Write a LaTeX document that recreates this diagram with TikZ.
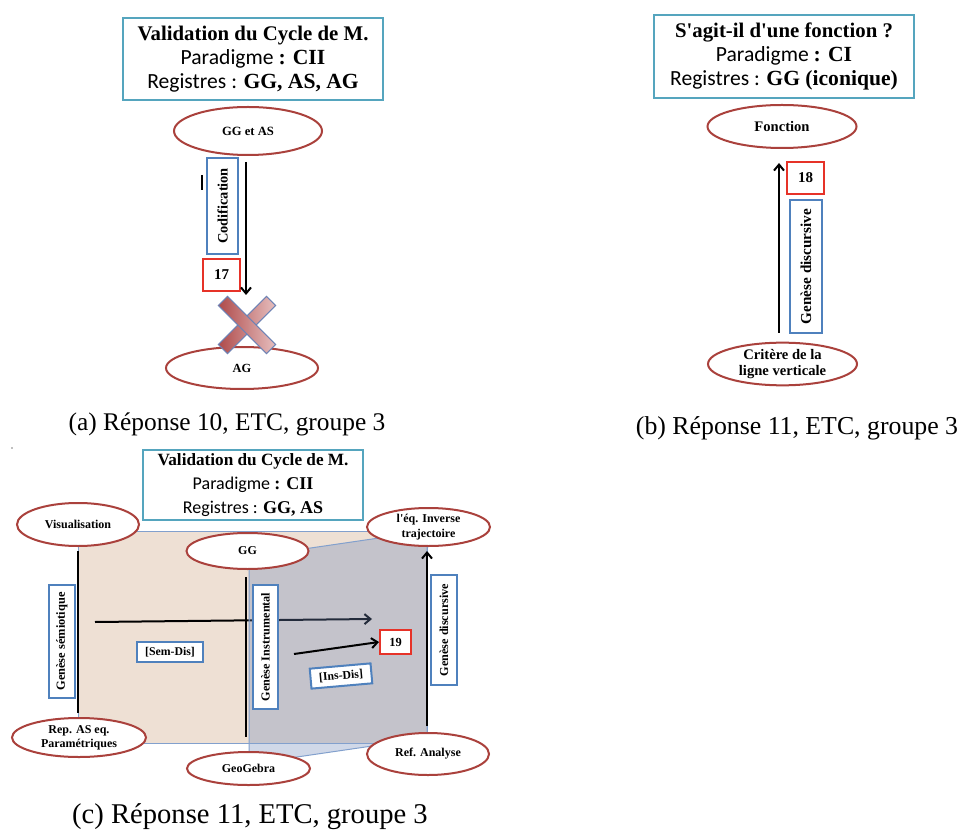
\documentclass[tikz,border=0pt]{standalone}
\usepackage{fontspec}
\newfontfamily\carl{Carlito}
\newfontfamily\lser{Liberation Serif}
\usetikzlibrary{shapes.geometric,arrows.meta}
\definecolor{tealc}{RGB}{85,165,190}
\definecolor{ovalc}{RGB}{170,65,60}
\definecolor{bluec}{RGB}{79,129,189}
\definecolor{redc}{RGB}{230,50,40}
\definecolor{beige}{RGB}{238,224,212}
\definecolor{overc}{RGB}{110,135,185}
\definecolor{edgec}{RGB}{130,160,205}
\definecolor{xdark}{RGB}{175,75,75}
\definecolor{xlight}{RGB}{230,190,190}
\definecolor{xedge}{RGB}{110,130,180}
\begin{document}
\begin{tikzpicture}[x=0.5pt,y=-0.5pt,
  titlebox/.style={draw=tealc,line width=1pt,fill=white,align=center,inner sep=0pt},
  oval/.style={ellipse,draw=ovalc,line width=1pt,fill=white,inner sep=0pt,align=center},
  genbox/.style={draw=bluec,line width=1pt,fill=white,inner sep=0pt,rotate=90},
  numbox/.style={draw=redc,line width=1pt,fill=white,inner sep=0pt},
  labbox/.style={draw=bluec,line width=1pt,fill=white,inner sep=0pt},
  caption/.style={inner sep=0pt},
  xbar/.style={draw=xedge,line width=0.5pt,left color=xdark,right color=xlight,minimum width=34pt,minimum height=6.5pt,inner sep=0pt},
  arr/.style={line width=1pt,-{Straight Barb[length=3pt,width=5pt]}},
  vline/.style={line width=1pt}]
\useasboundingbox (0,0) rectangle (967,833);
\fill[white] (0,0) rectangle (967,833);

% ---------------- Panel (a) ----------------
\node[titlebox,minimum width=130pt,minimum height=41pt] (ta) at (253,59)
 {\lser\bfseries\fontsize{10.4}{12}\selectfont Validation du Cycle de M.\\[0pt]
  \carl\fontsize{10.8}{12}\selectfont Paradigme {\lser\bfseries : CII}\\[0pt]
  \carl\fontsize{10.8}{12}\selectfont Registres : {\lser\bfseries GG, AS, AG}};
\node[oval,minimum width=74pt,minimum height=24pt,font=\lser\bfseries\fontsize{6.3}{7}\selectfont] (ggas) at (248,131) {GG et AS};
\node[oval,minimum width=76pt,minimum height=21pt,font=\lser\bfseries\fontsize{6.2}{7}\selectfont] (ag) at (242,368) {AG};
\node[genbox,minimum width=48pt,minimum height=15.5pt,font=\lser\bfseries\fontsize{7.2}{8}\selectfont] (cod) at (222.5,206) {Codification};
\node[numbox,minimum width=18.5pt,minimum height=16pt,font=\lser\bfseries\fontsize{7.5}{8}\selectfont] (n17) at (221.5,275) {17};
\coordinate (a1) at (246,162);
\coordinate (a2) at (246,295);
\draw[arr] (a1) -- (a2);
\draw[line width=0.6pt] (202,175) -- (202,190);
\node[xbar,rotate=45] (xa) at (247,325) {};
\node[xbar,rotate=-45] (xb) at (247,325) {};
\node[caption,font=\lser\fontsize{12.7}{14}\selectfont] (capa) at (227,424) {(a) Réponse 10, ETC, groupe 3};

% ---------------- Panel (b) ----------------
\node[titlebox,minimum width=130pt,minimum height=41.5pt] (tb) at (784,56.5)
 {\lser\bfseries\fontsize{10.4}{12}\selectfont S'agit-il d'une fonction ?\\[0pt]
  \carl\fontsize{10.8}{12}\selectfont Paradigme {\lser\bfseries : CI}\\[0pt]
  \carl\fontsize{10.8}{12}\selectfont Registres : {\lser\bfseries GG (iconique)}};
\node[oval,minimum width=74.5pt,minimum height=21.5pt,font=\lser\bfseries\fontsize{7.3}{8}\selectfont] (fct) at (782,126.5) {Fonction};
\node[oval,minimum width=74.5pt,minimum height=21pt,font=\lser\bfseries\fontsize{7.3}{8.4}\selectfont] (crit) at (782.5,364) {Critère de la\\ligne verticale};
\node[numbox,minimum width=18.5pt,minimum height=16pt,font=\lser\bfseries\fontsize{7.5}{8}\selectfont] (n18) at (805.5,178) {18};
\node[genbox,minimum width=66.5pt,minimum height=16pt,font=\lser\bfseries\fontsize{7.6}{8}\selectfont] (gdb) at (806,266.5) {Genèse discursive};
\coordinate (b1) at (779,333);
\coordinate (b2) at (779,163);
\draw[arr] (b1) -- (b2);
\node[caption,font=\lser\fontsize{12.9}{14}\selectfont] (capb) at (797,428) {(b) Réponse 11, ETC, groupe 3};

% ---------------- Panel (c) ----------------
\fill[gray] (12,448) circle (0.4pt);
\draw[edgec,line width=0.4pt,fill=beige] (78,531) rectangle (427,743);
\coordinate (h1) at (95,622);
\coordinate (h2) at (372,619);
\draw[arr] (h1) -- (h2);
\fill[overc,opacity=0.32] (249,557) -- (427,531) -- (427,738) -- (249,764) -- cycle;
\draw[edgec,line width=0.5pt] (249,557) -- (427,531) -- (427,738) -- (249,764) -- cycle;
\draw[edgec,line width=0.4pt] (249,743) -- (400,743);
\coordinate (v1t) at (78,551);
\coordinate (v1b) at (78,713);
\draw[vline] (v1t) -- (v1b);
\coordinate (v2t) at (246,577);
\coordinate (v2b) at (246,737);
\draw[vline] (v2t) -- (v2b);
\coordinate (v3b) at (427,726);
\coordinate (v3t) at (427,551);
\draw[arr] (v3b) -- (v3t);
\node[numbox,minimum width=15.5pt,minimum height=12pt,font=\lser\bfseries\fontsize{6.2}{7}\selectfont] (n19) at (395.5,642) {19};
\coordinate (d1) at (294,654);
\draw[arr] (d1) -- (n19.west);

\node[titlebox,minimum width=110pt,minimum height=35pt] (tc) at (253,485)
 {\lser\bfseries\fontsize{8.6}{10}\selectfont Validation du Cycle de M.\\[0pt]
  \carl\fontsize{9}{10}\selectfont Paradigme {\lser\bfseries : CII}\\[0pt]
  \carl\fontsize{9}{10}\selectfont Registres : {\lser\bfseries GG, AS}};
\node[genbox,minimum width=56.5pt,minimum height=13pt,font=\lser\bfseries\fontsize{6.2}{7}\selectfont] (gsem) at (62,641.5) {Genèse sémiotique};
\node[genbox,minimum width=62pt,minimum height=12.5pt,font=\lser\bfseries\fontsize{6.1}{7}\selectfont] (gins) at (265.5,647) {Genèse Instrumental};
\node[genbox,minimum width=55pt,minimum height=13pt,font=\lser\bfseries\fontsize{6.1}{7}\selectfont] (gdis) at (444,630) {Genèse discursive};
\node[labbox,minimum width=33pt,minimum height=10pt,font=\lser\bfseries\fontsize{5.9}{7}\selectfont] (sd) at (170,652) {[Sem-Dis]};
\node[labbox,rotate=5,minimum width=30.5pt,minimum height=10pt,font=\lser\bfseries\fontsize{5.9}{7}\selectfont] (id) at (341,676) {[Ins-Dis]};

\node[oval,minimum width=61pt,minimum height=21.5pt,font=\lser\bfseries\fontsize{6}{7}\selectfont] (vis) at (78,524.5) {Visualisation};
\node[oval,minimum width=61pt,minimum height=18pt,font=\lser\bfseries\fontsize{6}{7}\selectfont] (gg) at (247.5,551) {GG};
\node[oval,minimum width=61.5pt,minimum height=19pt,font=\lser\bfseries\fontsize{6}{7.2}\selectfont] (inv) at (428.5,527) {l'éq. Inverse\\trajectoire};
\node[oval,minimum width=67pt,minimum height=19.5pt,font=\lser\bfseries\fontsize{6}{7.2}\selectfont] (rep) at (79,737.5) {Rep. AS eq.\\Paramétriques};
\node[oval,minimum width=61.5pt,minimum height=16.5pt,font=\lser\bfseries\fontsize{6}{7}\selectfont] (geo) at (248.5,768.5) {GeoGebra};
\node[oval,minimum width=61pt,minimum height=21pt,font=\lser\bfseries\fontsize{6}{7}\selectfont] (ref) at (428,754) {Ref. Analyse};
\node[caption,font=\lser\fontsize{14.3}{16}\selectfont] (capc) at (250,817) {(c) Réponse 11, ETC, groupe 3};
\end{tikzpicture}
\end{document}
